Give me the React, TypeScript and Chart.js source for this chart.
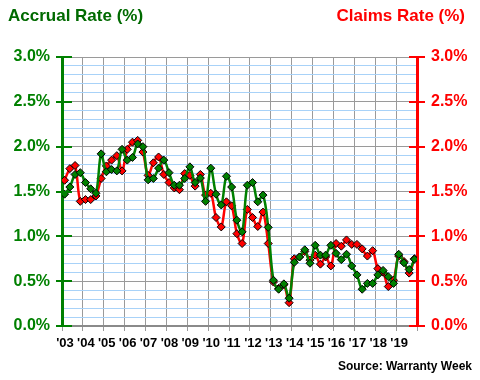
import React, { useEffect, useRef } from 'react';
import { Chart, registerables } from 'chart.js';

Chart.register(...registerables);

// ---- data ----
const yearLabels = ["'03", "'04", "'05", "'06", "'07", "'08", "'09", "'10", "'11", "'12", "'13", "'14", "'15", "'16", "'17", "'18", "'19"];

// quarterly accrual rate (% of product revenue), 2003 Q1 .. 2019 Q4
const accrualRate = [
  1.47, 1.55, 1.69, 1.71,
  1.60, 1.53, 1.48, 1.92,
  1.72, 1.745, 1.73, 1.97,
  1.85, 1.88, 2.03, 2.00,
  1.63, 1.645, 1.76, 1.85,
  1.71, 1.57, 1.57, 1.645,
  1.775, 1.60, 1.65, 1.39,
  1.76, 1.47, 1.35, 1.67,
  1.55, 1.18, 1.05, 1.57,
  1.60, 1.385, 1.46, 1.10,
  0.51, 0.41, 0.47, 0.31,
  0.71, 0.77, 0.85, 0.70,
  0.90, 0.79, 0.79, 0.90,
  0.81, 0.74, 0.80, 0.67,
  0.57, 0.41, 0.475, 0.475,
  0.57, 0.62, 0.55, 0.475,
  0.80, 0.705, 0.63, 0.745,
];

// quarterly claims rate (% of product revenue), 2003 Q1 .. 2019 Q4
const claimsRate = [
  1.625, 1.755, 1.79, 1.39,
  1.41, 1.41, 1.45, 1.645,
  1.785, 1.85, 1.90, 1.73,
  1.97, 2.05, 2.07, 1.94,
  1.68, 1.82, 1.885, 1.69,
  1.60, 1.54, 1.52, 1.70,
  1.68, 1.56, 1.69, 1.46,
  1.48, 1.21, 1.105, 1.385,
  1.34, 1.03, 0.92, 1.30,
  1.21, 1.11, 1.27, 0.92,
  0.49, 0.42, 0.46, 0.26,
  0.75, 0.77, 0.83, 0.735,
  0.79, 0.69, 0.77, 0.67,
  0.92, 0.89, 0.96, 0.91,
  0.91, 0.86, 0.78, 0.84,
  0.64, 0.60, 0.44, 0.51,
  0.78, 0.72, 0.59, 0.75,
];

const majorTicks = [0, 0.5, 1.0, 1.5, 2.0, 2.5, 3.0];

const GREEN = '#008000';
const TITLE_GREEN = '#006a00';
const RED = '#ff0000';
const GRID_GREY = '#9a9a9a';
const GRID_BLUE = '#a8d2f8';
const FONT = '"Liberation Sans", Arial, sans-serif';

const isMajor = (v: number) => Math.abs(v * 2 - Math.round(v * 2)) < 1e-6;

const decorPlugin = {
  id: 'decor',
  afterDraw(chart: any) {
    const { ctx, chartArea, scales } = chart;
    const ys = scales.y;
    ctx.save();
    ctx.lineWidth = 2;
    for (const v of majorTicks) {
      const py = Math.round(ys.getPixelForValue(v));
      ctx.strokeStyle = GREEN;
      ctx.beginPath();
      ctx.moveTo(chartArea.left - 6, py);
      ctx.lineTo(chartArea.left + 10, py);
      ctx.stroke();
      ctx.strokeStyle = RED;
      ctx.beginPath();
      ctx.moveTo(chartArea.right - 8, py);
      ctx.lineTo(chartArea.right + 8, py);
      ctx.stroke();
    }
    ctx.textBaseline = 'alphabetic';
    ctx.font = `bold 17px ${FONT}`;
    ctx.fillStyle = TITLE_GREEN;
    ctx.textAlign = 'left';
    ctx.fillText('Accrual Rate (%)', 8, 21);
    ctx.fillStyle = RED;
    ctx.textAlign = 'right';
    ctx.fillText('Claims Rate (%)', 465, 21);
    ctx.font = `bold 12px ${FONT}`;
    ctx.fillStyle = '#000000';
    ctx.fillText('Source: Warranty Week', 472, 370);
    ctx.restore();
  },
};

export default function App() {
  const canvasRef = useRef<HTMLCanvasElement | null>(null);

  useEffect(() => {
    if (!canvasRef.current) return;
    const toPoints = (arr: number[]) => arr.map((v, i) => ({ x: i + 0.5, y: v }));
    const chart = new Chart(canvasRef.current, {
      type: 'line',
      data: {
        datasets: [
          {
            label: 'Accrual Rate (%)',
            data: toPoints(accrualRate),
            yAxisID: 'y',
            borderColor: GREEN,
            backgroundColor: GREEN,
            borderWidth: 2.5,
            tension: 0.35,
            pointStyle: 'rectRot',
            pointRadius: 4,
            pointBackgroundColor: GREEN,
            pointBorderColor: '#000000',
            pointBorderWidth: 1,
          },
          {
            label: 'Claims Rate (%)',
            data: toPoints(claimsRate),
            yAxisID: 'y1',
            borderColor: RED,
            backgroundColor: RED,
            borderWidth: 2.5,
            tension: 0.35,
            pointStyle: 'rectRot',
            pointRadius: 4,
            pointBackgroundColor: RED,
            pointBorderColor: '#000000',
            pointBorderWidth: 1,
          },
        ],
      },
      options: {
        responsive: false,
        animation: false,
        layout: { padding: { top: 57, left: 0, right: 0, bottom: 0 } },
        plugins: { legend: { display: false }, tooltip: { enabled: false }, title: { display: false } },
        scales: {
          x: {
            type: 'linear',
            min: 0,
            max: yearLabels.length * 4,
            afterFit: (s: any) => { s.height = 54; },
            afterBuildTicks: (s: any) => {
              s.ticks = Array.from({ length: yearLabels.length + 1 }, (_, i) => ({ value: i * 4 }));
            },
            ticks: {
              autoSkip: false,
              maxRotation: 0,
              padding: 5,
              labelOffset: 3,
              color: '#000000',
              font: { family: FONT, weight: 'bold', size: 13 },
              callback: (v: any) => yearLabels[Math.round(Number(v) / 4)] ?? '',
            },
            grid: { color: GRID_GREY, lineWidth: 1, drawTicks: true, tickLength: 5, tickColor: GRID_GREY },
            border: { display: true, color: '#8a8a8a', width: 2 },
          },
          y: {
            type: 'linear',
            position: 'left',
            min: 0,
            max: 3,
            afterFit: (s: any) => { s.width = 62; },
            afterBuildTicks: (s: any) => {
              s.ticks = Array.from({ length: 31 }, (_, i) => ({ value: i / 10 }));
            },
            ticks: {
              autoSkip: false,
              padding: 12,
              color: GREEN,
              font: { family: FONT, weight: 'bold', size: 16 },
              callback: (v: any) => (isMajor(Number(v)) ? Number(v).toFixed(1) + '%' : ''),
            },
            grid: {
              drawTicks: false,
              lineWidth: 1,
              color: (c: any) => (isMajor(c.tick.value) ? GRID_GREY : GRID_BLUE),
            },
            border: { display: true, color: GREEN, width: 3 },
          },
          y1: {
            type: 'linear',
            position: 'right',
            min: 0,
            max: 3,
            afterFit: (s: any) => { s.width = 63; },
            afterBuildTicks: (s: any) => {
              s.ticks = majorTicks.map((v) => ({ value: v }));
            },
            ticks: {
              autoSkip: false,
              padding: 14,
              color: RED,
              font: { family: FONT, weight: 'bold', size: 16 },
              callback: (v: any) => Number(v).toFixed(1) + '%',
            },
            grid: { drawOnChartArea: false, drawTicks: false },
            border: { display: true, color: RED, width: 3 },
          },
        },
      },
      plugins: [decorPlugin],
    } as any);
    return () => chart.destroy();
  }, []);

  return (
    <div style={{ position: 'fixed', left: 0, top: 0, width: 480, height: 380, background: '#ffffff' }}>
      <canvas ref={canvasRef} width={480} height={380} />
    </div>
  );
}
